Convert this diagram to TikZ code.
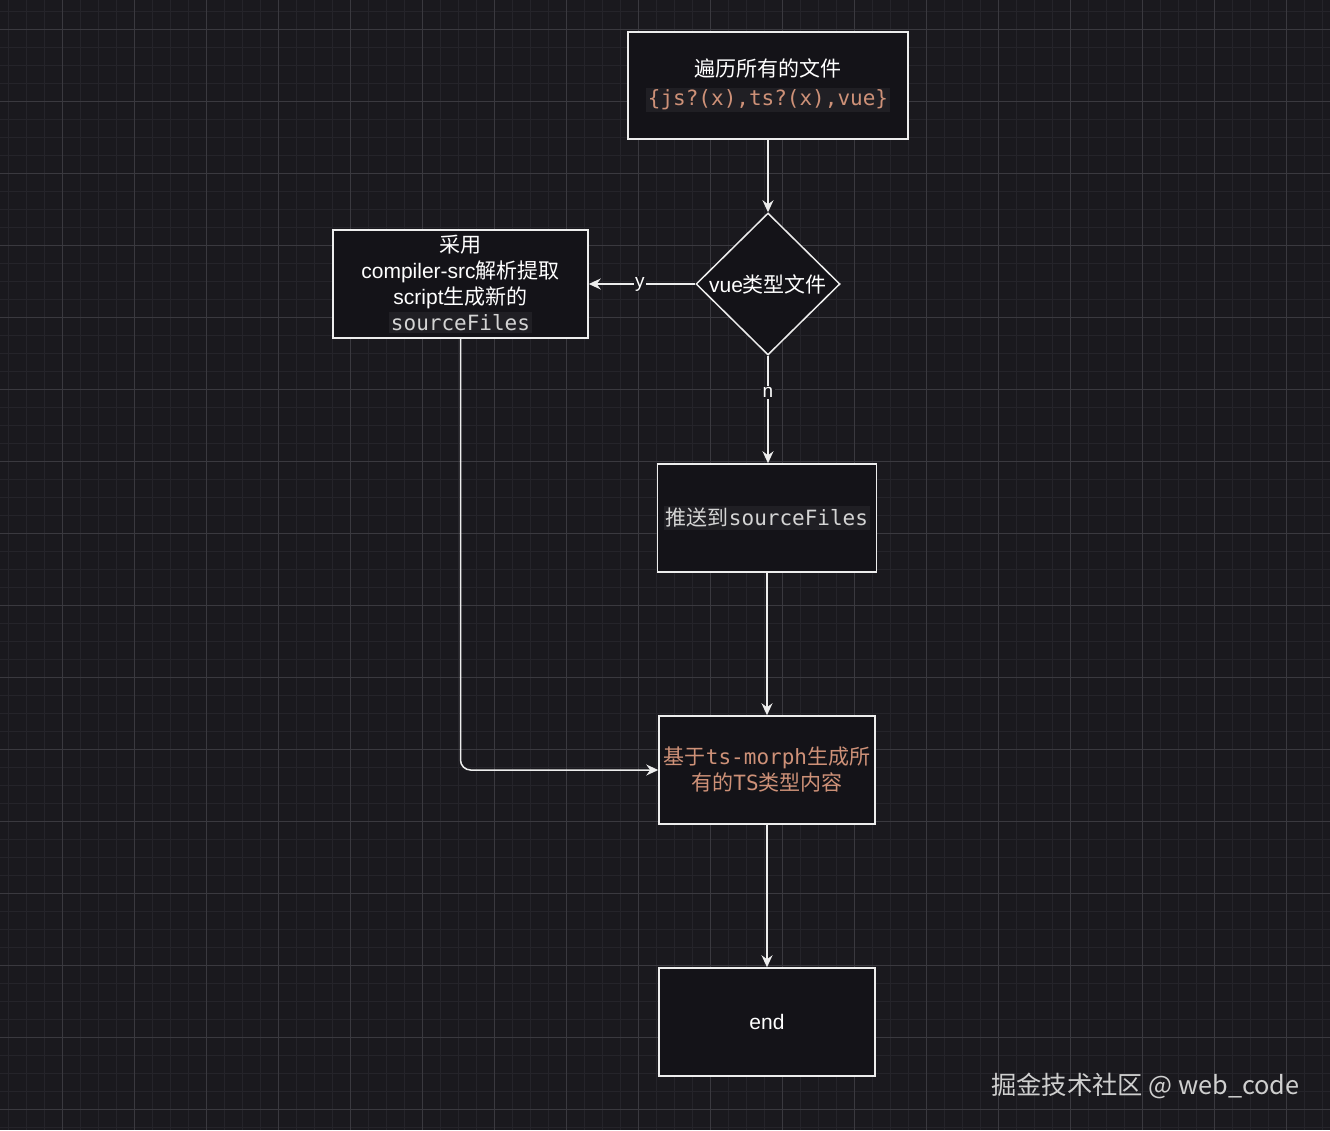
\documentclass[tikz,border=0pt]{standalone}
\usepackage{fontspec}
\setmainfont{Liberation Sans}
\setmonofont{DejaVu Sans Mono}
\newfontfamily\cjk{Noto Sans CJK SC}
\usetikzlibrary{arrows.meta,shapes.geometric}
\definecolor{bg}{HTML}{1A191E}
\definecolor{boxfill}{HTML}{141318}
\definecolor{gminor}{HTML}{25242A}
\definecolor{gmajor}{HTML}{3A393F}
\definecolor{stroke}{HTML}{EDEDED}
\definecolor{code}{HTML}{CE9178}
\definecolor{codegray}{HTML}{D4D4D4}
\definecolor{hl}{HTML}{201F24}
\definecolor{wm}{HTML}{CFCFCF}
\newcommand{\hlbox}[1]{{\setlength{\fboxsep}{2pt}\colorbox{hl}{#1}}}
\tikzset{
  box/.style={draw=stroke, line width=1.5pt, fill=boxfill, rectangle, inner sep=0pt, align=center, text=white, font=\fontsize{21}{26}\selectfont},
  dia/.style={draw=stroke, line width=1.5pt, fill=boxfill, diamond, inner sep=0pt, minimum width=144pt, minimum height=142pt},
  arr/.style={draw=stroke, line width=1.5pt, -{Stealth[length=12pt,width=11pt,inset=4pt]}},
  lbl/.style={fill=bg, text=white, inner sep=1.5pt, font=\fontsize{19}{22}\selectfont},
  gmin/.style={draw=gminor, line width=0.9pt},
  gmaj/.style={draw=gmajor, line width=1.1pt},
}
\begin{document}
\begin{tikzpicture}[x=1pt, y=-1pt]
\fill[bg] (0,0) rectangle (1330,1130);
\useasboundingbox (0,0) rectangle (1330,1130);
% grid
\foreach \i in {0,...,73} \draw[gmin] ({8.7+18*\i},0) -- ({8.7+18*\i},1130);
\foreach \i in {0,...,62} \draw[gmin] (0,{11.3+18*\i}) -- (1330,{11.3+18*\i});
\foreach \i in {-1,...,18} \draw[gmaj] ({62.7+72*\i},0) -- ({62.7+72*\i},1130);
\foreach \i in {0,...,15} \draw[gmaj] (0,{29.3+72*\i}) -- (1330,{29.3+72*\i});

% nodes
\node[box, minimum width=280pt, minimum height=107pt] (top) at (768,85.5)
  {{\cjk 遍历所有的文件}\\[3pt]\hlbox{\ttfamily\color{code}\{js?(x),ts?(x),vue\}}};
\node[dia, label={[text=white, font=\fontsize{21}{26}\selectfont]center:vue{\cjk 类型文件}}] (d) at (768,284) {};
\node[box, minimum width=255pt, minimum height=108pt] (left) at (460.5,284)
  {{\cjk 采用}\\compiler-src{\cjk 解析提取}\\script{\cjk 生成新的}\\\hlbox{\ttfamily\color{codegray}sourceFiles}};
\node[box, minimum width=219pt, minimum height=108pt] (push) at (767,518)
  {\hlbox{\color{codegray}{\cjk 推送到}\ttfamily sourceFiles}};
\node[box, minimum width=216pt, minimum height=108pt, text=code] (gen) at (767,770)
  {{\cjk 基于}\texttt{ts-morph}{\cjk 生成所}\\{\cjk 有的}\texttt{TS}{\cjk 类型内容}};
\node[box, minimum width=216pt, minimum height=108pt] (end) at (767,1022) {end};

% watermark
\node[anchor=west, text=wm, inner sep=0pt, font=\cjk\fontsize{25.3}{28}\selectfont] (wmk) at (991,1086) {掘金技术社区 @ web\_code};

% connectors
\draw[arr] (top.south) -- (top.south |- d.north);
\draw[arr] (d.west) -- node[lbl, pos=0.52]{y} (left.east);
\draw[arr] (d.south) -- node[lbl, pos=0.34]{n} (d.south |- push.north);
\draw[arr] (push.south) -- (push.south |- gen.north);
\draw[arr, rounded corners=10pt] (left.south) |- (gen.west);
\draw[arr] (gen.south) -- (gen.south |- end.north);
\end{tikzpicture}
\end{document}
